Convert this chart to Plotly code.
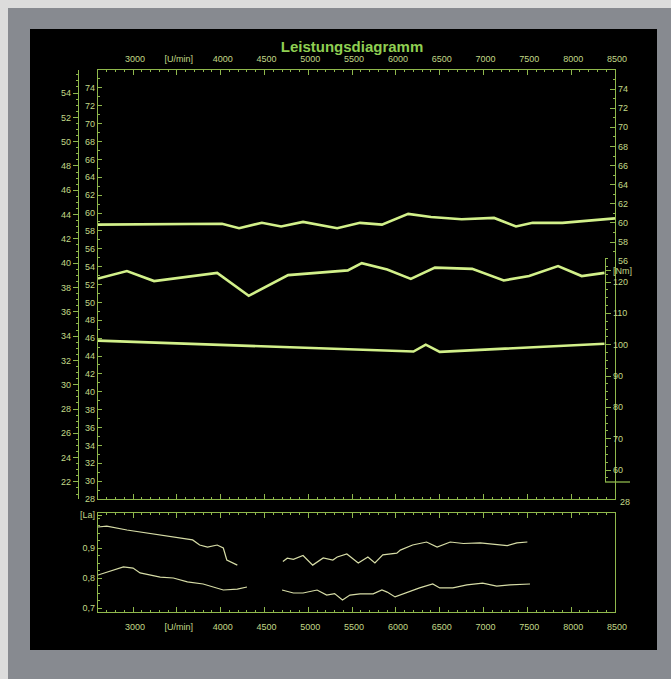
import plotly.graph_objects as go

# ---------------- data ----------------
rpm_power = [2600, 4015, 4210, 4470, 4690, 4940, 5330, 5590, 5840, 6140, 6400, 6750, 7120, 7370, 7560, 7900, 8500]
power_ps = [58.7, 58.8, 58.3, 58.9, 58.5, 59.0, 58.3, 58.9, 58.7, 59.9, 59.55, 59.3, 59.45, 58.5, 58.9, 58.9, 59.4]

rpm_mid = [2600, 2930, 3240, 3960, 4320, 4770, 5450, 5610, 5900, 6170, 6445, 6870, 7230, 7520, 7850, 8120, 8380]
mid_nm = [121.1, 123.5, 120.3, 122.9, 115.6, 122.2, 123.7, 126.0, 124.0, 121.0, 124.6, 124.2, 120.5, 121.9, 125.1, 121.9, 122.9]

rpm_torque = [2600, 6200, 6340, 6500, 8380]
torque_nm = [101.3, 97.8, 100.0, 97.7, 100.3]

rpm_lam_a = [2600, 2700, 2930, 3160, 3420, 3680, 3760, 3850, 3960, 4030, 4070, 4140, 4190, None,
             4710, 4760, 4830, 4905, 4940, 5050, 5170, 5280, 5330, 5440, 5570, 5680, 5760, 5850,
             6010, 6050, 6190, 6350, 6470, 6620, 6770, 6960, 7150, 7270, 7380, 7500]
lam_a = [0.970, 0.973, 0.960, 0.950, 0.937, 0.927, 0.910, 0.903, 0.910, 0.900, 0.860, 0.850, 0.843, None,
         0.855, 0.866, 0.862, 0.870, 0.875, 0.843, 0.867, 0.860, 0.870, 0.880, 0.850, 0.870, 0.850, 0.877,
         0.883, 0.893, 0.910, 0.920, 0.903, 0.920, 0.915, 0.917, 0.912, 0.908, 0.917, 0.920]

rpm_lam_b = [2600, 2700, 2890, 3000, 3080, 3310, 3460, 3620, 3800, 4030, 4190, 4300, None,
             4700, 4830, 4940, 5100, 5210, 5300, 5390, 5475, 5590, 5740, 5840, 5900, 5990,
             6130, 6270, 6420, 6500, 6650, 6810, 6990, 7150, 7300, 7530]
lam_b = [0.810, 0.820, 0.837, 0.833, 0.817, 0.803, 0.800, 0.787, 0.780, 0.760, 0.763, 0.770, None,
         0.760, 0.750, 0.750, 0.760, 0.743, 0.748, 0.727, 0.743, 0.747, 0.747, 0.760, 0.753, 0.737,
         0.753, 0.767, 0.780, 0.767, 0.767, 0.777, 0.783, 0.773, 0.777, 0.780]

x_tickvals = [3000, 3500, 4000, 4500, 5000, 5500, 6000, 6500, 7000, 7500, 8000, 8500]
x_ticktext = ["3000", "[U/min]", "4000", "4500", "5000", "5500", "6000", "6500", "7000", "7500", "8000", "8500"]
ps_ticks = list(range(28, 76, 2))
kw_ticks = list(range(22, 56, 2))
ps_right_ticks = list(range(56, 76, 2))
ps_right_bottom = 28
nm_tickvals = [60, 70, 80, 90, 100, 110, 120, 123.6]
nm_ticktext = ["60", "70", "80", "90", "100", "110", "120", "[Nm]"]
lam_tickvals = [0.7, 0.8, 0.9, 1.01]
lam_ticktext = ["0,7", "0,8", "0,9", "[La]"]

# ---------------- geometry (figure pixels) ----------------
W, H = 671, 679
fx = lambda px: px / W
fy = lambda py: 1 - py / H
PX_PER_RPM = (615 - 98) / (8500 - 2600)

AX = "#8fb84c"
TXT = "#c2d987"
FONT = dict(family="Liberation Sans, Arial, sans-serif", size=9, color=TXT)

fig = go.Figure()

curve = dict(color="#d2f08a", width=2.6)
fig.add_trace(go.Scatter(x=rpm_power, y=power_ps, mode="lines", line=curve, xaxis="x", yaxis="y", name="Leistung"))
fig.add_trace(go.Scatter(x=[], y=[], mode="lines", xaxis="x", yaxis="y2", hoverinfo="skip"))
fig.add_trace(go.Scatter(x=[], y=[], mode="lines", xaxis="x", yaxis="y3", hoverinfo="skip"))
fig.add_trace(go.Scatter(x=rpm_mid, y=mid_nm, mode="lines", line=curve, xaxis="x3", yaxis="y5", name="mid"))
fig.add_trace(go.Scatter(x=rpm_torque, y=torque_nm, mode="lines", line=curve, xaxis="x3", yaxis="y5", name="Drehmoment"))

lam_line = dict(color="#d6dca6", width=1.2)
fig.add_trace(go.Scatter(x=rpm_lam_a, y=lam_a, mode="lines", line=lam_line, xaxis="x2", yaxis="y4", connectgaps=False))
fig.add_trace(go.Scatter(x=rpm_lam_b, y=lam_b, mode="lines", line=lam_line, xaxis="x2", yaxis="y4", connectgaps=False))

xdom = [fx(98), fx(615)]
main_dom = [fy(499), fy(70)]
lam_dom = [fy(612), fy(513)]

xcommon = dict(range=[2600, 8500], tickvals=x_tickvals, ticktext=x_ticktext, showgrid=False, zeroline=False,
               showline=True, linecolor=AX, linewidth=1.3, ticks="inside", ticklen=5, tickcolor=AX,
               tickfont=FONT, mirror="ticks", automargin=False,
               minor=dict(ticks="inside", ticklen=2, dtick=100, tickcolor=AX, showgrid=False))
ycommon = dict(showgrid=False, zeroline=False, showline=True, linecolor=AX, linewidth=1.3,
               tickcolor=AX, tickfont=FONT, automargin=False)

nm_top_px, nm_bot_px = 258, 482
nm_per_px = 10 / 31.333
nm_range = [60 - (nm_bot_px - 470) * nm_per_px, 120 + (282 - nm_top_px) * nm_per_px]

fig.update_layout(
    width=W, height=H,
    margin=dict(l=0, r=0, t=0, b=0, pad=0, autoexpand=False),
    paper_bgcolor="#878a90",
    plot_bgcolor="rgba(0,0,0,0)",
    showlegend=False,
    title=dict(text="<b>Leistungsdiagramm</b>", x=fx(352), y=fy(47), xanchor="center", yanchor="middle",
               font=dict(family="Liberation Sans, Arial, sans-serif", size=15, color="#8fcf52")),
    xaxis=dict(xcommon, domain=xdom, anchor="y", side="top", ticklabelstandoff=3, ticklabelshift=2),
    xaxis2=dict(xcommon, domain=xdom, anchor="y4", side="bottom", ticklabelstandoff=6, ticklabelshift=2),
    xaxis3=dict(domain=[fx(98), fx(605)], anchor="y5", visible=False, automargin=False,
                range=[2600, 2600 + (605 - 98) / PX_PER_RPM]),
    yaxis=dict(ycommon, domain=main_dom, anchor="x", side="left", range=[28, 76],
               tickvals=ps_ticks, ticks="inside", ticklen=4, mirror=True,
               minor=dict(ticks="inside", ticklen=2, dtick=1, tickcolor=AX)),
    yaxis2=dict(ycommon, overlaying="y", anchor="free", position=fx(78), side="left",
                range=[28 * 0.7355, 76 * 0.7355],
                tickvals=kw_ticks, ticks="outside", ticklen=5,
                minor=dict(ticks="outside", ticklen=2, dtick=0.5, tickcolor=AX)),
    yaxis3=dict(ycommon, domain=[fy(262), fy(70)], anchor="x", side="right", range=[55.92, 75.99],
                tickvals=ps_right_ticks, ticks="inside", ticklen=5,
                minor=dict(ticks="inside", ticklen=2, dtick=1, tickcolor=AX)),
    yaxis4=dict(ycommon, domain=lam_dom, anchor="x2", side="left", range=[0.6867, 1.0167],
                tickvals=lam_tickvals, ticktext=lam_ticktext, ticks="inside", ticklen=4, mirror=True,
                minor=dict(ticks="inside", ticklen=2, dtick=0.025, tickcolor=AX)),
    yaxis5=dict(ycommon, domain=[fy(nm_bot_px), fy(nm_top_px)], anchor="x3", side="right", range=nm_range,
                tickvals=nm_tickvals, ticktext=nm_ticktext, ticks="outside", ticklen=5,
                minor=dict(ticks="outside", ticklen=2, dtick=2.5, tickcolor=AX)),
    shapes=[
        dict(type="rect", xref="paper", yref="paper", x0=fx(30), x1=fx(657), y0=fy(650), y1=fy(29),
             fillcolor="#000000", line=dict(width=0), layer="below"),
        dict(type="rect", xref="paper", yref="paper", x0=0, x1=fx(8), y0=0, y1=1,
             fillcolor="#dcdcdc", line=dict(width=0), layer="below"),
        dict(type="rect", xref="paper", yref="paper", x0=0, x1=1, y0=fy(8), y1=1,
             fillcolor="#dcdcdc", line=dict(width=0), layer="below"),
        dict(type="line", xref="paper", yref="y5 domain", x0=fx(605), x1=fx(630), y0=0, y1=0,
             line=dict(color=AX, width=1.3)),
    ],
    annotations=[
        dict(text=str(ps_right_bottom), xref="x domain", yref="y", x=1, y=ps_right_bottom,
             xanchor="left", yanchor="middle", xshift=3, yshift=-3, showarrow=False, font=FONT),
    ],
)

fig.write_html(
    "out.html",
    config={"displayModeBar": False, "responsive": False},
    post_script="document.body.style.margin='0';document.body.style.overflow='hidden';"
                "document.documentElement.style.overflow='hidden';",
)
